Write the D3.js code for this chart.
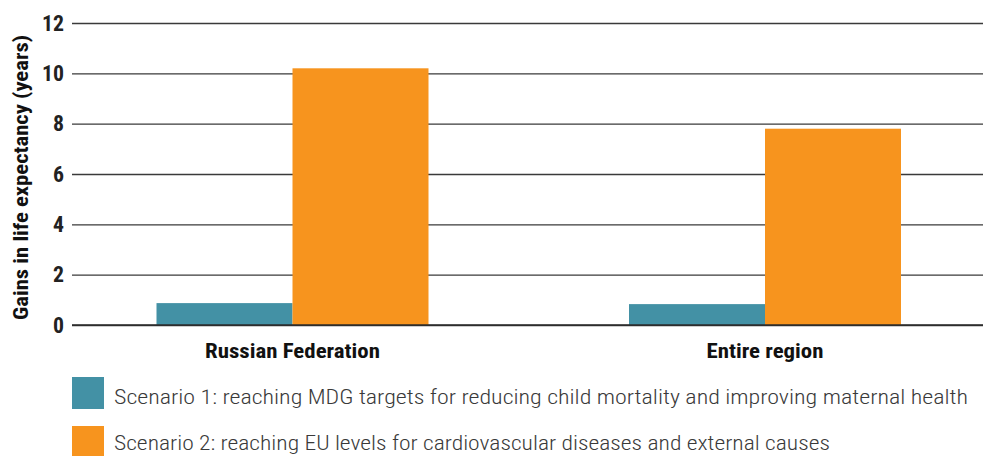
<!DOCTYPE html>
<html>
<head>
<meta charset="utf-8">
<script src="https://cdn.jsdelivr.net/npm/d3@7"></script>
<style>
  html, body { margin: 0; padding: 0; background: #fff; }
  svg { display: block; }
  .cond { font-family: "Liberation Sans Narrow", "Roboto Condensed", "Arial Narrow", Roboto, "Liberation Sans", sans-serif; }
</style>
</head>
<body>
<svg id="chart" width="983" height="456"></svg>
<script>
const categories = ["Russian Federation", "Entire region"];
const seriesNames = [
  "Scenario 1: reaching MDG targets for reducing child mortality and improving maternal health",
  "Scenario 2: reaching EU levels for cardiovascular diseases and external causes"
];
const scenario1 = [0.87, 0.83];
const scenario2 = [10.2, 7.8];
const yTicks = [0, 2, 4, 6, 8, 10, 12];
const colors = ["#4391A5", "#F7941E"];
const yTitle = "Gains in life expectancy (years)";

const svg = d3.select("#chart");
const plotLeft = 72, plotRight = 983, plotTop = 23, plotBottom = 325;

const y = d3.scaleLinear().domain([0, 12]).range([plotBottom, plotTop]);
const xCenter = d3.scalePoint().domain(categories).range([292.5, 765]);
const xSub = d3.scaleBand().domain([0, 1]).range([-136, 136]).padding(0);

// gridlines
const yAxis = d3.axisLeft(y).tickValues(yTicks).tickSize(-(plotRight - plotLeft)).tickPadding(8).tickFormat(d3.format("d"));
const gAxis = svg.append("g").attr("transform", `translate(${plotLeft},0)`).call(yAxis);
gAxis.select(".domain").remove();
gAxis.selectAll(".tick line").attr("stroke", "#3a3a3a").attr("stroke-width", 1.4);
gAxis.selectAll(".tick text")
  .attr("class", "cond")
  .attr("font-size", 22).attr("font-weight", "bold").attr("fill", "#222")
  .attr("x", -8)
  .attr("textLength", d => String(d).length * 11)
  .attr("lengthAdjust", "spacingAndGlyphs");

// bars
const data = categories.map((c, i) => ({ cat: c, vals: [scenario1[i], scenario2[i]] }));
const groups = svg.append("g").selectAll("g").data(data).join("g")
  .attr("transform", d => `translate(${xCenter(d.cat)},0)`);
groups.selectAll("rect").data(d => d.vals.map((v, k) => ({ v, k }))).join("rect")
  .attr("x", d => xSub(d.k))
  .attr("width", xSub.bandwidth())
  .attr("y", d => y(d.v))
  .attr("height", d => y(0) - y(d.v))
  .attr("fill", d => colors[d.k]);

// baseline on top
svg.append("line").attr("x1", plotLeft).attr("x2", plotRight).attr("y1", y(0)).attr("y2", y(0))
  .attr("stroke", "#2a2a2a").attr("stroke-width", 1.6);

// category labels
const catWidths = [175, 117];
svg.append("g").selectAll("text").data(categories).join("text")
  .attr("class", "cond")
  .attr("x", d => xCenter(d)).attr("y", 358)
  .attr("text-anchor", "middle").attr("font-size", 21).attr("font-weight", "bold").attr("fill", "#111")
  .attr("textLength", (d, i) => catWidths[i])
  .attr("lengthAdjust", "spacingAndGlyphs")
  .text(d => d);

// y title
svg.append("text").attr("class", "cond")
  .attr("transform", `translate(28,${(35 + 320) / 2}) rotate(-90)`)
  .attr("text-anchor", "middle").attr("font-size", 20).attr("font-weight", "bold").attr("fill", "#111")
  .attr("textLength", 285)
  .attr("lengthAdjust", "spacingAndGlyphs")
  .text(yTitle);

// legend
const legendY = [377, 426];
const textY = [27, 24];
const leg = svg.append("g").selectAll("g").data(seriesNames).join("g")
  .attr("transform", (d, i) => `translate(72,${legendY[i]})`);
leg.append("rect").attr("width", 32).attr("height", 32).attr("fill", (d, i) => colors[i]);
leg.append("text").attr("class", "cond")
  .attr("x", 42).attr("y", (d, i) => textY[i])
  .attr("font-size", 21).attr("font-weight", 300).attr("fill", "#3a3a3a")
  .attr("textLength", (d, i) => i === 0 ? 854 : 716)
  .attr("lengthAdjust", "spacingAndGlyphs")
  .text(d => d);
</script>
</body>
</html>
